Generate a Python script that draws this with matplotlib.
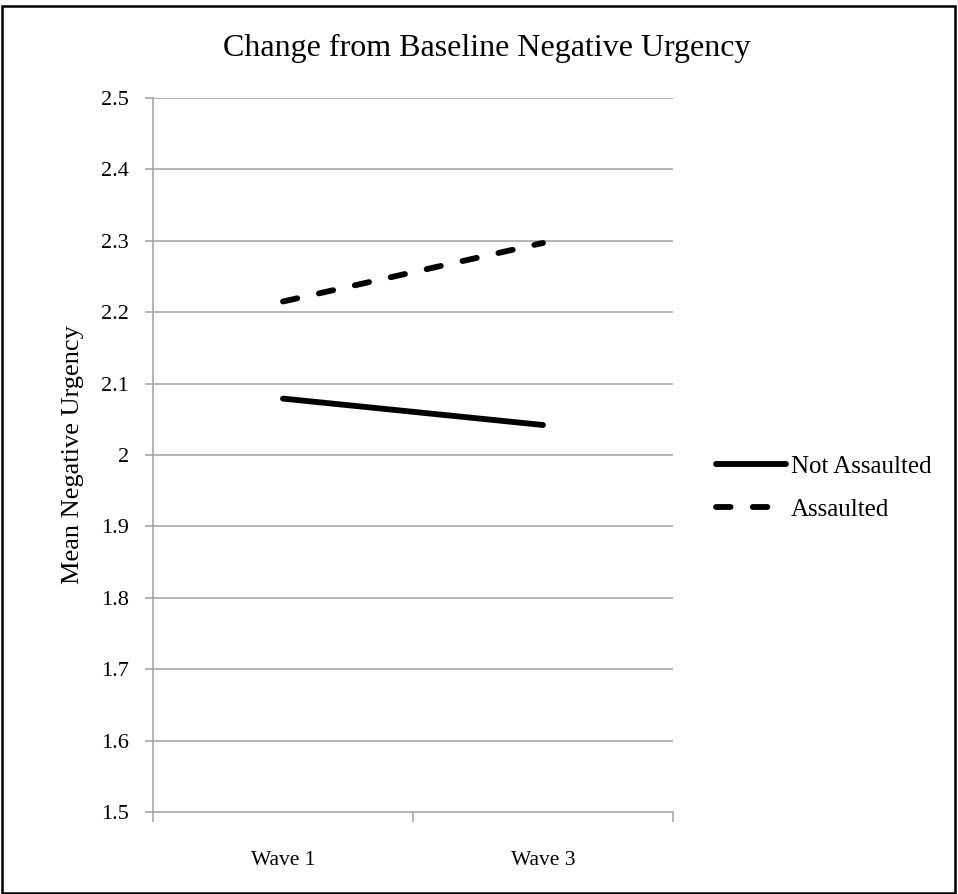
import matplotlib
matplotlib.use("Agg")
import matplotlib.pyplot as plt
from matplotlib.patches import Rectangle

categories = ["Wave 1", "Wave 3"]
not_assaulted = [2.079, 2.042]
assaulted = [2.215, 2.297]
series_names = ["Not Assaulted", "Assaulted"]
yticks = [1.5, 1.6, 1.7, 1.8, 1.9, 2.0, 2.1, 2.2, 2.3, 2.4, 2.5]
ytick_labels = ["1.5", "1.6", "1.7", "1.8", "1.9", "2", "2.1", "2.2", "2.3", "2.4", "2.5"]

plt.rcParams['font.family'] = ['Liberation Serif', 'DejaVu Serif']
plt.rcParams['lines.scale_dashes'] = False

W, H = 958, 894
fig = plt.figure(figsize=(W/100, H/100), dpi=100)
ax = fig.add_axes([153/W, (H-812)/H, (673-153)/W, (812-98)/H])

grid_c = "#A0A0A0"
x = [0.5, 1.5]
ax.plot(x, not_assaulted, color="black", lw=4.2, solid_capstyle="round", label=series_names[0], zorder=3)
ax.plot(x, assaulted, color="black", lw=4.2, dashes=(10.5, 16.0), dash_capstyle="round", label=series_names[1], zorder=3)

ax.set_xlim(0, 2)
ax.set_ylim(1.5, 2.5)
ax.set_yticks(yticks)
ax.set_yticklabels(ytick_labels)
ax.set_xticks([0, 1, 2])
ax.set_xticklabels([])
ax.set_xticks(x, minor=True)
ax.set_xticklabels(categories, minor=True)
ax.tick_params(axis='x', which='major', direction='out', length=7.5, width=1.1, color=grid_c)
ax.tick_params(axis='x', which='minor', length=0, pad=28, labelsize=15.5)
ax.tick_params(axis='y', direction='out', length=5.5, width=1.1, color=grid_c, pad=12, labelsize=16)
for yv in yticks[1:]:
    ax.axhline(yv, color=grid_c, lw=1.1, zorder=1)
for s in ["top", "right"]:
    ax.spines[s].set_visible(False)
for s in ["left", "bottom"]:
    ax.spines[s].set_color(grid_c)
    ax.spines[s].set_linewidth(1.1)

ax.set_ylabel("Mean Negative Urgency", fontsize=19, labelpad=12)
fig.text(487/W, 1 - 48/H, "Change from Baseline Negative Urgency", fontsize=23, ha="center", va="center")

leg = ax.legend(loc="center left", bbox_to_anchor=(693/W, 1 - 488/H), bbox_transform=fig.transFigure,
                frameon=False, fontsize=18, handlelength=2.8, handletextpad=0.22, labelspacing=0.8)

fig.patches.append(Rectangle((2/W, 1/H), (955-2)/W, (887)/H, transform=fig.transFigure,
                             fill=False, edgecolor="black", lw=1.8))

fig.savefig("out.png", dpi=100)
